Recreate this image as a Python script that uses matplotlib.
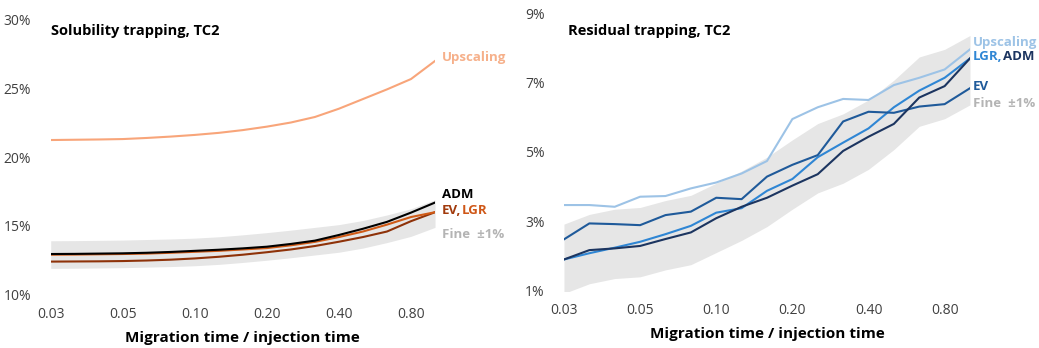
import matplotlib
matplotlib.use('Agg')
from matplotlib import pyplot as plt
import numpy as np

plt.rcParams['font.family'] = ['Open Sans', 'DejaVu Sans']

# migration time / injection time (categories, every third one labelled)
categories = [0.03, 0.035, 0.04, 0.05, 0.06, 0.08, 0.10, 0.12, 0.15,
              0.20, 0.25, 0.30, 0.40, 0.50, 0.60, 0.80, 1.00]

# solubility trapping, TC2 (%)
sol_upscaling = [21.23, 21.25, 21.27, 21.3, 21.38, 21.48, 21.6, 21.75, 21.95,
                 22.2, 22.5, 22.9, 23.5, 24.2, 24.9, 25.65, 26.96]
sol_adm = [12.97, 12.98, 13.0, 13.02, 13.06, 13.12, 13.2, 13.28, 13.38,
           13.5, 13.7, 13.94, 14.35, 14.8, 15.3, 15.97, 16.7]
sol_lgr = [12.92, 12.93, 12.95, 12.97, 13.0, 13.06, 13.13, 13.2, 13.3,
           13.4, 13.6, 13.85, 14.2, 14.6, 15.1, 15.65, 16.0]
sol_ev = [12.42, 12.43, 12.44, 12.46, 12.5, 12.56, 12.65, 12.77, 12.92,
          13.1, 13.3, 13.55, 13.86, 14.2, 14.6, 15.35, 16.0]
sol_fine = [12.93, 12.94, 12.96, 12.98, 13.02, 13.06, 13.12, 13.22, 13.36,
            13.52, 13.7, 13.9, 14.1, 14.4, 14.8, 15.25, 15.9]

# residual trapping, TC2 (%)
res_upscaling = [3.47, 3.47, 3.42, 3.71, 3.73, 3.95, 4.12, 4.38, 4.74,
                 5.95, 6.29, 6.53, 6.50, 6.93, 7.14, 7.38, 7.96]
res_ev = [2.48, 2.94, 2.92, 2.89, 3.18, 3.28, 3.68, 3.64, 4.29,
          4.63, 4.91, 5.88, 6.16, 6.13, 6.31, 6.38, 6.84]
res_lgr = [1.90, 2.08, 2.24, 2.41, 2.63, 2.87, 3.25, 3.38, 3.88,
           4.22, 4.85, 5.27, 5.68, 6.29, 6.77, 7.14, 7.70]
res_adm = [1.90, 2.17, 2.22, 2.29, 2.49, 2.68, 3.09, 3.42, 3.68,
           4.03, 4.36, 5.03, 5.44, 5.81, 6.57, 6.90, 7.70]
res_fine = [1.92, 2.2, 2.35, 2.4, 2.6, 2.75, 3.1, 3.45, 3.85,
            4.35, 4.82, 5.1, 5.5, 6.07, 6.74, 6.96, 7.36]

band = 1.0  # Fine +-1%

x = np.arange(len(categories))
tick_idx = x[::3][:6]
tick_lab = ['%.2f' % categories[i] for i in tick_idx]

fig = plt.figure(figsize=(10.39, 3.48), dpi=100)
ax1 = fig.add_axes([0.0488, 0.1523, 0.3699, 0.7931])
ax2 = fig.add_axes([0.5428, 0.1647, 0.3908, 0.7971])

tick_col = '#404040'
lab_fs = 9.5


def style_axes(ax, ylim, yticks):
    for s in ax.spines.values():
        s.set_visible(False)
    ax.set_xlim(0, len(categories) - 1)
    ax.set_ylim(*ylim)
    ax.set_yticks(yticks)
    ax.set_yticklabels(['%d%%' % v for v in yticks])
    ax.set_xticks(tick_idx)
    ax.set_xticklabels(tick_lab)
    ax.tick_params(length=0, labelsize=10, labelcolor=tick_col)
    ax.tick_params(axis='y', pad=14)
    ax.tick_params(axis='x', pad=9)
    ax.set_xlabel('Migration time / injection time', fontsize=11,
                  fontweight='bold', labelpad=6)


def two_color(ax, xpos, ypos, s1, c1, s2, c2):
    t = ax.text(xpos, ypos, s1, color=c1, fontsize=lab_fs,
                fontweight='bold', va='center')
    fig.canvas.draw()
    bb = t.get_window_extent().transformed(ax.transData.inverted())
    ax.text(bb.x1, ypos, s2, color=c2, fontsize=lab_fs,
            fontweight='bold', va='center')


# ---- left: solubility
fine = np.array(sol_fine)
ax1.fill_between(x, fine - band, fine + band, color='#e6e6e6', lw=0)
ax1.plot(x, sol_upscaling, color='#f8a57a', lw=1.5)
ax1.plot(x, sol_ev, color='#8e3209', lw=1.5)
ax1.plot(x, sol_lgr, color='#d05a16', lw=1.5)
ax1.plot(x, sol_adm, color='black', lw=1.5)
style_axes(ax1, (10, 30), [10, 15, 20, 25, 30])
ax1.text(0, 29.1, 'Solubility trapping, TC2', fontsize=10.5,
         fontweight='bold', va='center', ha='left')

tx = 16.3
ax1.text(tx, 27.2, 'Upscaling', color='#f6b08a', fontsize=lab_fs,
         fontweight='bold', va='center')
ax1.text(tx, 17.25, 'ADM', color='black', fontsize=lab_fs,
         fontweight='bold', va='center')
two_color(ax1, tx, 16.1, 'EV,', '#a13a0c', 'LGR', '#cf5717')
ax1.text(tx, 14.35, 'Fine  \u00b11%', color='#b4b4b4', fontsize=lab_fs,
         fontweight='bold', va='center')

# ---- right: residual
fine = np.array(res_fine)
ax2.fill_between(x, fine - band, fine + band, color='#e6e6e6', lw=0)
ax2.plot(x, res_upscaling, color='#9dc3e6', lw=1.5)
ax2.plot(x, res_lgr, color='#2f86d4', lw=1.5)
ax2.plot(x, res_ev, color='#1f5a9a', lw=1.5)
ax2.plot(x, res_adm, color='#1c3560', lw=1.5)
style_axes(ax2, (1, 9), [1, 3, 5, 7, 9])
ax2.text(0.15, 8.5, 'Residual trapping, TC2', fontsize=10.5,
         fontweight='bold', va='center', ha='left')

tx = 16.12
ax2.text(tx, 8.17, 'Upscaling', color='#9dc3e6', fontsize=lab_fs,
         fontweight='bold', va='center')
two_color(ax2, tx, 7.74, 'LGR,', '#2f86d4', 'ADM', '#1c3560')
ax2.text(tx, 6.9, 'EV', color='#1f5a9a', fontsize=lab_fs,
         fontweight='bold', va='center')
ax2.text(tx, 6.39, 'Fine  \u00b11%', color='#b4b4b4', fontsize=lab_fs,
         fontweight='bold', va='center')

fig.savefig('out.png', dpi=100)
